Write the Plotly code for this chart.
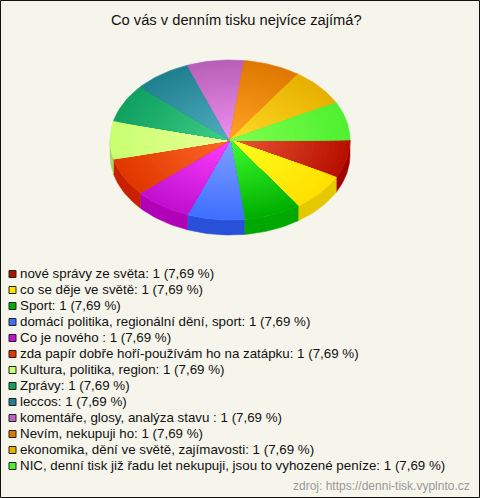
import math
import plotly.graph_objects as go

title = "Co vás v denním tisku nejvíce zajímá?"
source = "zdroj: https://denni-tisk.vyplnto.cz"
categories = [
    "nové správy ze světa", "co se děje ve světě", "Sport",
    "domácí politika, regionální dění, sport", "Co je nového ",
    "zda papír dobře hoří-používám ho na zatápku", "Kultura, politika, region",
    "Zprávy", "leccos", "komentáře, glosy, analýza stavu ", "Nevím, nekupuji ho",
    "ekonomika, dění ve světě, zajímavosti",
    "NIC, denní tisk již řadu let nekupuji, jsou to vyhozené peníze",
]
values = [1] * 13
inner_colors = ["#EC5A38", "#FFFF20", "#40FF30", "#80A0FF", "#FF40FF", "#FF6A28", "#ECFF98",
                "#40D088", "#50B0C0", "#F090F0", "#FFA428", "#FFDC28", "#80FF50"]
outer_colors = ["#B81000", "#FFE000", "#00B000", "#4070FF", "#C010D0", "#E03800", "#C8FF70",
                "#10A060", "#208090", "#B860B8", "#E07800", "#E8B000", "#50F030"]
legend_colors = ["#B01000", "#FFE000", "#00B000", "#4070F0", "#C010D0", "#E03800", "#C8FF70",
                 "#10A060", "#208090", "#C060C0", "#E07800", "#E8B000", "#50F030"]
side_colors = ["#A00000", "#E6C800", "#00A800", "#2850D8", "#B000B8", "#C82000", "#A8D860",
               "#0C8048", "#186878", "#9048A0", "#B86000", "#C09000", "#40C020"]

W, H = 480, 498
CX, CY, RX, RY, DEPTH = 230, 140, 120, 80, 15
BANDS = 24
BG = "#F5F5EC"


def hex2rgb(h):
    return [int(h[i:i + 2], 16) for i in (1, 3, 5)]


def mix(a, b, t):
    ca, cb = hex2rgb(a), hex2rgb(b)
    return "rgb(%d,%d,%d)" % tuple(round(x + (y - x) * t) for x, y in zip(ca, cb))


def arc(a0, a1, scale=1.0, dy=0.0):
    n = max(4, int(abs(a1 - a0) / 1.5))
    xs, ys = [], []
    for i in range(n + 1):
        a = math.radians(a0 + (a1 - a0) * i / n)
        xs.append(CX + RX * scale * math.cos(a))
        ys.append(CY + dy + RY * scale * math.sin(a))
    return xs, ys


fig = go.Figure()
total = sum(values)
angles = [0.0]
for v in values:
    angles.append(angles[-1] + 360.0 * v / total)

# side wall (only the front half is visible)
for i, _ in enumerate(values):
    a0, a1 = angles[i], min(angles[i + 1], 180.0)
    if a0 >= 180:
        continue
    x1, y1 = arc(a0, a1)
    x2, y2 = arc(a1, a0, dy=DEPTH)
    fig.add_trace(go.Scatter(x=x1 + x2 + [x1[0]], y=y1 + y2 + [y1[0]], mode="lines", fill="toself",
                             fillcolor=side_colors[i], line=dict(width=0.5, color=side_colors[i]),
                             hoverinfo="skip", showlegend=False))

# slice tops: nested wedges, outer first, give a radial shading
for i, cat in enumerate(categories):
    for b in range(BANDS, 0, -1):
        t = b / BANDS
        x, y = arc(angles[i], angles[i + 1], scale=t)
        color = mix(inner_colors[i], outer_colors[i], t)
        fig.add_trace(go.Scatter(x=[CX] + x + [CX], y=[CY] + y + [CY], mode="lines", fill="toself",
                                 fillcolor=color, line=dict(width=0.6, color=color), name=cat,
                                 hoverinfo="skip", showlegend=False))

# legend
ROW0, ROWH = 274, 16
labels = [f"{c}: {v} ({v / total * 100:.2f} %)".replace(".", ",") for c, v in zip(categories, values)]
fig.add_trace(go.Scatter(
    x=[12.5] * len(labels), y=[ROW0 + ROWH * i for i in range(len(labels))], mode="markers",
    marker=dict(symbol="square", size=7, color=legend_colors, line=dict(color="#222222", width=1)),
    hoverinfo="skip", showlegend=False))
annotations = [dict(x=17.5, y=ROW0 - 0.5 + ROWH * i, xref="x", yref="y", text=lab, showarrow=False,
                    xanchor="left", yanchor="middle", font=dict(family="Liberation Sans", size=13.33, color="#111111"))
               for i, lab in enumerate(labels)]
annotations.append(dict(x=236.5, y=20, xref="x", yref="y", text=title, showarrow=False, xanchor="center",
                        yanchor="middle", font=dict(family="Liberation Sans", size=14.7, color="#111111")))
annotations.append(dict(x=472, y=486, xref="x", yref="y", text=source, showarrow=False, xanchor="right",
                        yanchor="middle", font=dict(family="Liberation Sans", size=12, color="#999999")))

fig.update_layout(
    width=W, height=H, margin=dict(l=0, r=0, t=0, b=0), paper_bgcolor=BG, plot_bgcolor=BG,
    xaxis=dict(range=[0, W], visible=False, fixedrange=True),
    yaxis=dict(range=[H, 0], visible=False, fixedrange=True),
    annotations=annotations, showlegend=False,
    shapes=[dict(type="rect", xref="x", yref="y", x0=0.5, y0=0.5, x1=W - 0.5, y1=H - 0.5,
                 line=dict(color="#111111", width=1), fillcolor="rgba(0,0,0,0)")],
)
fig.write_html("out.html", config={"displayModeBar": False},
               post_script="document.body.style.margin='0';")
